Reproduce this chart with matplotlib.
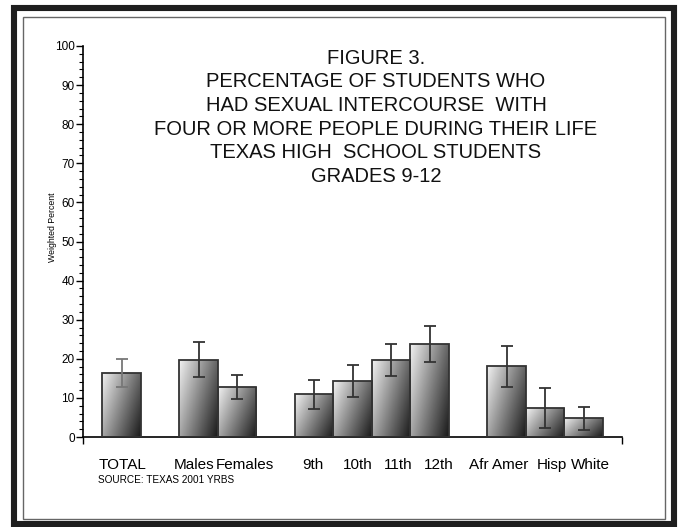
import numpy as np
import matplotlib
matplotlib.use("Agg")
import matplotlib.pyplot as plt
from matplotlib.patches import Rectangle
from matplotlib.ticker import MultipleLocator

plt.rcParams['font.family'] = ['Liberation Sans', 'DejaVu Sans']

# data
labels = ['TOTAL', 'Males', 'Females', '9th', '10th', '11th', '12th',
          'Afr Amer', 'Hisp', 'White']
xpos = [1, 3, 4, 6, 7, 8, 9, 11, 12, 13]
values = [16.4, 19.8, 12.9, 10.9, 14.3, 19.7, 23.9, 18.2, 7.4, 4.9]
err_low = [12.9, 15.3, 9.7, 7.2, 10.2, 15.7, 19.2, 12.9, 2.3, 1.8]
err_high = [19.9, 24.3, 15.9, 14.7, 18.3, 23.8, 28.5, 23.2, 12.5, 7.7]
title_lines = ['FIGURE 3.',
               'PERCENTAGE OF STUDENTS WHO',
               'HAD SEXUAL INTERCOURSE  WITH',
               'FOUR OR MORE PEOPLE DURING THEIR LIFE',
               'TEXAS HIGH  SCHOOL STUDENTS',
               'GRADES 9-12']

# label spots: the original spaces the names like one line of text,
# so they drift a little off the bar centres
label_shift = [0.04, -0.12, 0.2, -0.03, 0.14, 0.18, 0.25, -0.21, 0.18, 0.17]

W, H = 680, 527
fig = plt.figure(figsize=(W / 100, H / 100), dpi=100)

# frame: thick black outer border, thin gray inner line
fig.patches.append(Rectangle((14 / W, 3 / H), 660 / W, 516 / H, transform=fig.transFigure,
                             fill=False, edgecolor='#1e1e1e', linewidth=4.4))
fig.patches.append(Rectangle((23 / W, 1 - 519 / H), 642 / W, 502 / H, transform=fig.transFigure,
                             fill=False, edgecolor='#666666', linewidth=1.0))

ax = fig.add_axes([83 / W, 1 - 437 / H, 539 / W, 391 / H])

# gradient, light at top-left, dark at bottom-right
gx, gy = np.meshgrid(np.linspace(0, 1, 60), np.linspace(1, 0, 120))
shade = 0.95 - 0.55 * gx - 0.3 * (1 - gy)
shade = np.clip(shade, 0.08, 1)

width = 1.0
for x, v in zip(xpos, values):
    x0 = x - width / 2
    bar = Rectangle((x0, 0), width, v, facecolor='none', edgecolor='#333333',
                    linewidth=1.3, zorder=3)
    ax.add_patch(bar)
    im = ax.imshow(shade, cmap='gray', vmin=0, vmax=1, extent=(x0, x0 + width, 0, v),
                   aspect='auto', zorder=2, interpolation='bilinear')
    im.set_clip_path(bar)

err_colors = ['#777777'] + ['#333333'] * (len(values) - 1)
for x, v, lo, hi, c in zip(xpos, values, err_low, err_high, err_colors):
    ax.errorbar([x], [v], yerr=[[v - lo], [hi - v]], fmt='none', ecolor=c,
                elinewidth=1.3, capsize=4.5, capthick=1.3, zorder=4)

ax.set_xlim(0, 14)
ax.set_ylim(0, 100)

for s in ['top', 'right']:
    ax.spines[s].set_visible(False)
ax.spines['left'].set_linewidth(1.2)
ax.spines['bottom'].set_linewidth(1.2)

ax.yaxis.set_major_locator(MultipleLocator(10))
ax.yaxis.set_minor_locator(MultipleLocator(2))
ax.tick_params(axis='y', which='major', length=5, width=1, labelsize=8.5, pad=1)
ax.tick_params(axis='y', which='minor', length=3, width=0.8)

ax.set_xticks([x + d for x, d in zip(xpos, label_shift)])
ax.set_xticklabels(labels, fontsize=11)
ax.set_xticks([0, 14], minor=True)
ax.tick_params(axis='x', which='major', length=0, pad=15)
ax.tick_params(axis='x', which='minor', length=5, width=1)

fig.text(52 / W, 1 - 227 / H, 'Weighted Percent', rotation=90, fontsize=6.3,
         ha='center', va='center')
fig.text(98 / W, 1 - 480 / H, 'SOURCE: TEXAS 2001 YRBS', fontsize=7.2,
         ha='left', va='center')

for i, line in enumerate(title_lines):
    fig.text(376 / W, 1 - (58 + 23.7 * i) / H, line, fontsize=14.5,
             ha='center', va='center', color='#111111')

fig.savefig('out.png', dpi=100)
